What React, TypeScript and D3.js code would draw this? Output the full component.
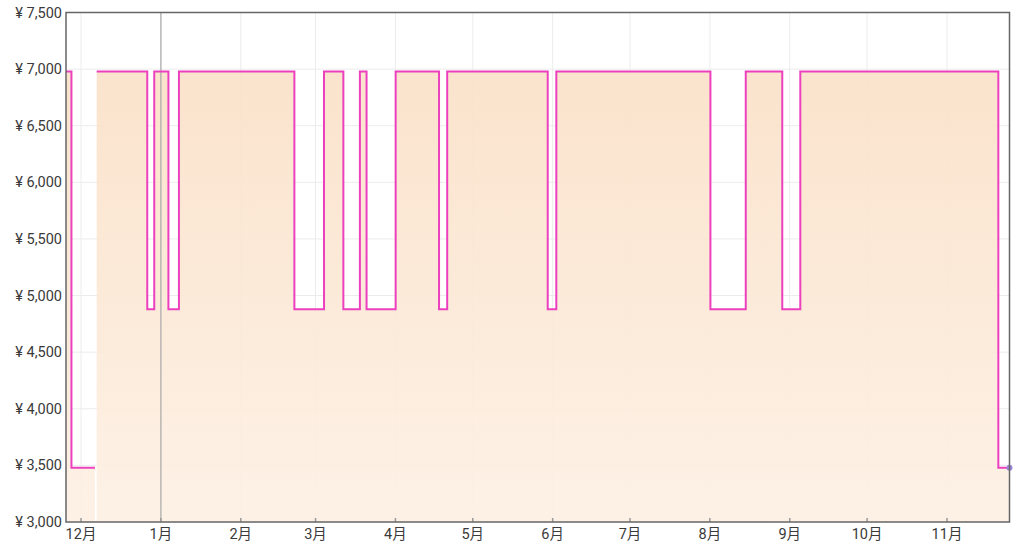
import React from "react";
import * as d3 from "d3";

const changeTimes: string[] = [
  "2023-11-25T04:00", "2023-11-27T07:00", "2023-12-06T10:00", "2023-12-07T02:00",
  "2023-12-26T17:00", "2023-12-29T10:00", "2024-01-03T22:00", "2024-01-08T00:00",
  "2024-02-21T19:00", "2024-03-04T07:00", "2024-03-11T19:00", "2024-03-18T05:00",
  "2024-03-20T19:00", "2024-04-01T02:00", "2024-04-17T22:00", "2024-04-21T02:00",
  "2024-05-30T02:00", "2024-06-02T10:00", "2024-08-01T05:00", "2024-08-14T22:00",
  "2024-08-29T02:00", "2024-09-05T02:00", "2024-11-20T22:00", "2024-11-25T06:00",
];
const prices: (number | null)[] = [
  6980, 3480, null, 6980,
  4880, 6980, 4880, 6980,
  4880, 6980, 4880, 6980,
  4880, 6980, 4880, 6980,
  4880, 6980, 4880, 6980,
  4880, 6980, 3480, 3480,
];
const yTicks: number[] = [3000, 3500, 4000, 4500, 5000, 5500, 6000, 6500, 7000, 7500];
const yearStart = "2024-01-01T00:00";

const W = 1024;
const H = 546;
const left = 66;
const right = 1009.5;
const top = 12.5;
const bottom = 522;

export default function App() {
  const parse = (s: string) => new Date(s);
  const data = changeTimes.map((t, i) => ({ date: parse(t), price: prices[i] }));

  const x = d3
    .scaleTime()
    .domain([new Date(2023, 11, 1), new Date(2024, 10, 1)])
    .range([81, 947]);
  const domainStart = x.invert(left);
  const domainEnd = x.invert(right);
  const y = d3.scaleLinear().domain([3000, 7500]).range([bottom, top]);

  const months = d3.timeMonth.range(d3.timeMonth.ceil(domainStart), domainEnd);

  const line = d3
    .line<{ date: Date; price: number | null }>()
    .defined((d) => d.price !== null)
    .x((d) => x(d.date))
    .y((d) => y(d.price as number))
    .curve(d3.curveStepAfter);
  const area = d3
    .area<{ date: Date; price: number | null }>()
    .defined((d) => d.price !== null)
    .x((d) => x(d.date))
    .y0(bottom)
    .y1((d) => y(d.price as number))
    .curve(d3.curveStepAfter);

  const segData: { date: Date; price: number | null }[] = [];
  data.forEach((d, i) => {
    if (d.price === null && i > 0) {
      segData.push({ date: d.date, price: data[i - 1].price });
    }
    segData.push(d);
  });

  const last = data[data.length - 1];
  const fontFamily = "Roboto, 'Noto Sans CJK JP', sans-serif";
  const yb = x(parse(yearStart));

  return (
    <svg width={W} height={H} style={{ position: "absolute", left: 0, top: 0, background: "#fff" }}>
      <defs>
        <linearGradient id="fillGrad" x1="0" y1={y(7000)} x2="0" y2={bottom} gradientUnits="userSpaceOnUse">
          <stop offset="0" stopColor="#fae1c8" />
          <stop offset="1" stopColor="#fdf0e4" />
        </linearGradient>
        <clipPath id="plotClip">
          <rect x={left} y={top} width={right - left} height={bottom - top} />
        </clipPath>
      </defs>

      <g clipPath="url(#plotClip)">
        {yTicks.map((t) => (
          <line key={"gy" + t} x1={left} x2={right} y1={y(t)} y2={y(t)} stroke="#ececec" strokeWidth={1} />
        ))}
        {months.map((m) => (
          <line key={"gx" + m.getTime()} x1={x(m)} x2={x(m)} y1={top} y2={bottom} stroke="#ececec" strokeWidth={1} />
        ))}
        <path d={area(segData) || ""} fill="url(#fillGrad)" fillOpacity={0.92} />
        <line x1={yb} x2={yb} y1={top} y2={bottom} stroke="#a8a8a8" strokeWidth={1.2} />
        <path d={line(segData) || ""} fill="none" stroke="#ec40bf" strokeWidth={2} />
        {months.map((m) => (
          <line key={"tk" + m.getTime()} x1={x(m)} x2={x(m)} y1={bottom} y2={bottom - 4} stroke="#999" strokeWidth={1.5} />
        ))}
      </g>
      <circle cx={x(last.date)} cy={y(last.price as number)} r={3} fill="#9c86d8" />

      <rect x={left} y={top} width={right - left} height={bottom - top} fill="none" stroke="#666" strokeWidth={1.5} />

      {yTicks.map((t) => (
        <text
          key={"ly" + t}
          x={62}
          y={y(t)}
          dy="0.35em"
          textAnchor="end"
          fontFamily={fontFamily}
          fontSize={14.5}
          fill="#3a3a3a"
        >
          {"¥ " + d3.format(",")(t)}
        </text>
      ))}
      {months.map((m) => (
        <text
          key={"lx" + m.getTime()}
          x={x(m)}
          y={539}
          textAnchor="middle"
          fontFamily={fontFamily}
          fontSize={14.5}
          fill="#3a3a3a"
        >
          {m.getMonth() + 1 + "月"}
        </text>
      ))}
    </svg>
  );
}
